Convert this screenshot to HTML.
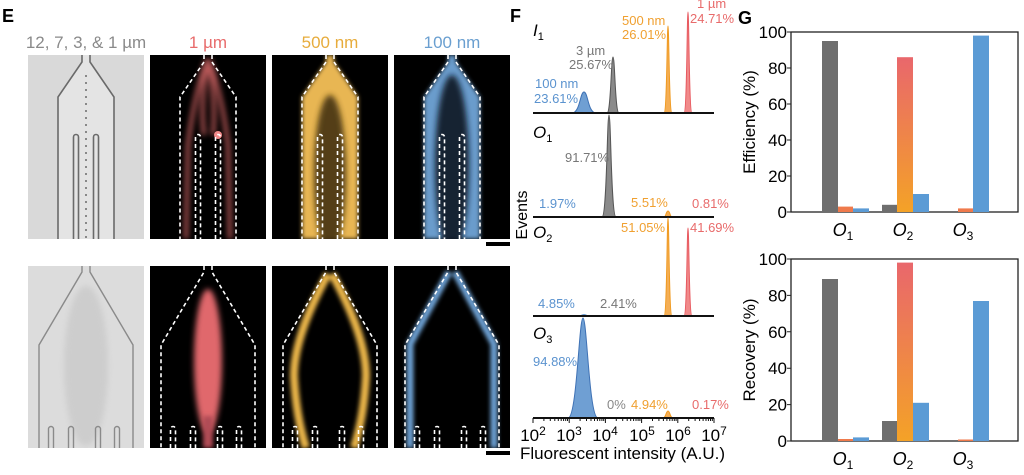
<!DOCTYPE html>
<html><head><meta charset="utf-8"><style>
html,body{margin:0;padding:0;background:#fff;}
svg{display:block;font-family:"Liberation Sans",sans-serif;}
</style></head><body>
<svg width="1024" height="475" viewBox="0 0 1024 475" xmlns="http://www.w3.org/2000/svg">
<defs>
<filter id="b3" x="-50%" y="-50%" width="200%" height="200%"><feGaussianBlur stdDeviation="3"/></filter>
<filter id="b2" x="-50%" y="-50%" width="200%" height="200%"><feGaussianBlur stdDeviation="2"/></filter>
<linearGradient id="ro" x1="0" y1="0" x2="0" y2="1"><stop offset="0" stop-color="#e9676c"/><stop offset="1" stop-color="#f4a227"/></linearGradient>
<g id="topOut">
<path d="M54,0 V7 L30,42 V184 M62,0 V7 L86,42 V184" fill="none"/>
<path d="M45.5,184 V82 A2.5,2.5 0 0 1 50.5,82 V184 M65.5,184 V82 A2.5,2.5 0 0 1 70.5,82 V184" fill="none"/>
</g>
<g id="botOut">
<path d="M54,0 V6 L11,79 V182 M62,0 V6 L105,79 V182" fill="none"/>
<path d="M20.5,182 V163 A2.5,2.5 0 0 1 25.5,163 V182 M40.5,182 V163 A2.5,2.5 0 0 1 45.5,163 V182 M67.5,182 V163 A2.5,2.5 0 0 1 72.5,163 V182 M86.5,182 V163 A2.5,2.5 0 0 1 91.5,163 V182" fill="none"/>
</g>
<clipPath id="ct"><rect width="116" height="184"/></clipPath>
<clipPath id="cb"><rect width="116" height="182"/></clipPath>
</defs>

<!-- Panel E -->
<text x="2" y="22" font-size="18" font-weight="bold">E</text>
<text x="86" y="48" font-size="17" fill="#8a8a8a" text-anchor="middle">12, 7, 3, &amp; 1 µm</text>
<text x="208" y="48" font-size="17" fill="#e86b6b" text-anchor="middle">1 µm</text>
<text x="330" y="48" font-size="17" fill="#e7ac3c" text-anchor="middle">500 nm</text>
<text x="452" y="48" font-size="17" fill="#6a9fd0" text-anchor="middle">100 nm</text>

<!-- top row -->
<g transform="translate(28,55)" clip-path="url(#ct)">
<rect width="116" height="184" fill="#d9d9d9"/>
<path d="M54,0 V7 L30,42 V184 H86 V42 L62,7 V0Z" fill="#e4e4e4"/>
<use href="#topOut" stroke="#6a6a6a" stroke-width="1.6"/>
<line x1="58" y1="20" x2="58" y2="184" stroke="#888" stroke-width="2" stroke-dasharray="2 5"/>
</g>
<g transform="translate(150,55)" clip-path="url(#ct)">
<rect width="116" height="184" fill="#000"/>
<g filter="url(#b3)" stroke="#e8706f" fill="none" stroke-width="4" opacity="0.8">
<path d="M57,4 Q44,40 38,90 L36,184"/><path d="M59,4 Q72,40 78,90 L80,184"/>
<path d="M57,10 Q50,50 54,80"/><path d="M59,10 Q66,50 63,80"/>
</g>
<circle cx="68" cy="80" r="4" fill="#f28a8a"/>
<use href="#topOut" stroke="#fff" stroke-width="1.6" stroke-dasharray="4 3"/>
</g>
<g transform="translate(272,55)" clip-path="url(#ct)">
<rect width="116" height="184" fill="#000"/>
<path d="M54,0 V7 L30,42 V184 H86 V42 L62,7 V0Z" fill="#e8b652" filter="url(#b2)"/>
<ellipse cx="58" cy="120" rx="16" ry="80" fill="#3a2a08" filter="url(#b3)" opacity="0.85"/>
<use href="#topOut" stroke="#fff" stroke-width="1.6" stroke-dasharray="4 3"/>
</g>
<g transform="translate(394,55)" clip-path="url(#ct)">
<rect width="116" height="184" fill="#000"/>
<path d="M54,0 V7 L30,42 V184 H86 V42 L62,7 V0Z" fill="#6a9ccc" filter="url(#b2)"/>
<ellipse cx="58" cy="110" rx="17" ry="90" fill="#0a1420" filter="url(#b3)" opacity="0.9"/>
<use href="#topOut" stroke="#fff" stroke-width="1.6" stroke-dasharray="4 3"/>
</g>
<rect x="486" y="242" width="24" height="4" fill="#000"/>

<!-- bottom row -->
<g transform="translate(28,266)" clip-path="url(#cb)">
<rect width="116" height="182" fill="#dcdcdc"/>
<ellipse cx="58" cy="100" rx="22" ry="80" fill="#cdcdcd" filter="url(#b3)"/>
<use href="#botOut" stroke="#8a8a8a" stroke-width="1.4"/>
</g>
<g transform="translate(150,266)" clip-path="url(#cb)">
<rect width="116" height="182" fill="#000"/>
<ellipse cx="58" cy="95" rx="14" ry="72" fill="#e0686c" filter="url(#b3)"/>
<rect x="53" y="150" width="10" height="32" fill="#b04c55" filter="url(#b2)"/>
<use href="#botOut" stroke="#fff" stroke-width="1.6" stroke-dasharray="4 3"/>
</g>
<g transform="translate(272,266)" clip-path="url(#cb)">
<rect width="116" height="182" fill="#000"/>
<g filter="url(#b2)" stroke="#eab54a" fill="none" stroke-width="8">
<path d="M56,8 Q22,70 22,110 Q24,150 34,182"/><path d="M60,8 Q94,70 94,110 Q92,150 82,182"/>
</g>
<use href="#botOut" stroke="#fff" stroke-width="1.6" stroke-dasharray="4 3"/>
</g>
<g transform="translate(394,266)" clip-path="url(#cb)">
<rect width="116" height="182" fill="#000"/>
<g filter="url(#b2)" stroke="#6ea3d6" fill="none" stroke-width="7">
<path d="M55,6 L16,78 V182"/><path d="M61,6 L100,78 V182"/>
</g>
<use href="#botOut" stroke="#fff" stroke-width="1.6" stroke-dasharray="4 3"/>
</g>
<rect x="486" y="451" width="24" height="4" fill="#000"/>

<!-- Panel F -->
<text x="510" y="22" font-size="18" font-weight="bold">F</text>
<text x="522" y="215" font-size="16" transform="rotate(-90 522 215)" text-anchor="middle" dy="5">Events</text>
<g font-size="17" font-style="italic">
<text x="533" y="36">I<tspan font-size="11" dy="4" font-style="normal">1</tspan></text>
<text x="533" y="138">O<tspan font-size="11" dy="4" font-style="normal">1</tspan></text>
<text x="533" y="238">O<tspan font-size="11" dy="4" font-style="normal">2</tspan></text>
<text x="533" y="339">O<tspan font-size="11" dy="4" font-style="normal">3</tspan></text>
</g>
<path d="M572,113 C580,113 580,92 584,92 C588,92 588,113 596,113Z" fill="#6f9fd3" stroke="#3f72b5" stroke-width="1"/>
<path d="M607,113 C611,113 611,57 613,57 C615,57 615,113 619,113Z" fill="#8a8a8a" stroke="#555" stroke-width="1"/>
<path d="M664,113 C667,113 667,26 668,26 C669,26 669,113 672,113Z" fill="#f4ae55" stroke="#f09a20" stroke-width="1"/>
<path d="M684,113 C687,113 687,12 688,12 C689,12 689,113 692,113Z" fill="#f08a8a" stroke="#e85a60" stroke-width="1"/>
<line x1="533" y1="113" x2="714" y2="113" stroke="#111" stroke-width="2"/>
<path d="M602,217 C607,217 607,115 609,115 C611,115 611,217 616,217Z" fill="#8a8a8a" stroke="#555" stroke-width="1"/>
<path d="M664,217 C666,217 666,211 668,211 C670,211 670,217 672,217Z" fill="#f4ae55" stroke="#f09a20" stroke-width="1"/>
<line x1="533" y1="217" x2="714" y2="217" stroke="#111" stroke-width="2"/>
<path d="M664,316 C667,316 667,218 668,218 C669,218 669,316 672,316Z" fill="#f4ae55" stroke="#f09a20" stroke-width="1"/>
<path d="M684,316 C687,316 687,228 688,228 C689,228 689,316 692,316Z" fill="#f08a8a" stroke="#e85a60" stroke-width="1"/>
<path d="M578,316 C581,316 581,314 584,314 C587,314 587,316 590,316Z" fill="#6f9fd3"/>
<line x1="533" y1="316" x2="714" y2="316" stroke="#111" stroke-width="2"/>
<path d="M568,418 C577,418 579,318 583,318 C587,318 589,418 598,418Z" fill="#6f9fd3" stroke="#3f72b5" stroke-width="1"/>
<path d="M663,418 C666,418 666,411 668,411 C670,411 670,418 673,418Z" fill="#f4ae55" stroke="#f09a20" stroke-width="1"/>
<line x1="533" y1="418" x2="714" y2="418" stroke="#111" stroke-width="2"/>
<g stroke="#111" stroke-width="1">
<path d="M533,418 v5 M569.2,418 v5 M605.4,418 v5 M641.6,418 v5 M677.8,418 v5 M714,418 v5"/>
<path d="M543.9,418v3M550.3,418v3M554.8,418v3M558.3,418v3M561.2,418v3M563.6,418v3M565.7,418v3M567.5,418v3
M580.1,418v3M586.5,418v3M591,418v3M594.5,418v3M597.4,418v3M599.8,418v3M601.9,418v3M603.7,418v3
M616.3,418v3M622.7,418v3M627.2,418v3M630.7,418v3M633.6,418v3M636,418v3M638.1,418v3M639.9,418v3
M652.5,418v3M658.9,418v3M663.4,418v3M666.9,418v3M669.8,418v3M672.2,418v3M674.3,418v3M676.1,418v3
M688.7,418v3M695.1,418v3M699.6,418v3M703.1,418v3M706,418v3M708.4,418v3M710.5,418v3M712.3,418v3"/>
</g>
<g font-size="17" text-anchor="middle">
<text x="533" y="441">10<tspan font-size="12" dy="-6">2</tspan></text>
<text x="569" y="441">10<tspan font-size="12" dy="-6">3</tspan></text>
<text x="605" y="441">10<tspan font-size="12" dy="-6">4</tspan></text>
<text x="642" y="441">10<tspan font-size="12" dy="-6">5</tspan></text>
<text x="678" y="441">10<tspan font-size="12" dy="-6">6</tspan></text>
<text x="714" y="441">10<tspan font-size="12" dy="-6">7</tspan></text>
</g>
<text x="520" y="459" font-size="17">Fluorescent intensity (A.U.)</text>
<g font-size="13">
<text x="622" y="25" fill="#f0a030">500 nm</text><text x="622" y="39" fill="#f0a030">26.01%</text>
<text x="697" y="8" fill="#e86b6b">1 µm</text><text x="690" y="23" fill="#e86b6b">24.71%</text>
<text x="576" y="55" fill="#777">3 µm</text><text x="569" y="69" fill="#777">25.67%</text>
<text x="535" y="88" fill="#5b93cf">100 nm</text><text x="534" y="103" fill="#5b93cf">23.61%</text>
<text x="565" y="162" fill="#777">91.71%</text>
<text x="539" y="208" fill="#5b93cf">1.97%</text>
<text x="631" y="207" fill="#f0a030">5.51%</text>
<text x="692" y="208" fill="#e86b6b">0.81%</text>
<text x="621" y="232" fill="#f0a030">51.05%</text>
<text x="690" y="232" fill="#e86b6b">41.69%</text>
<text x="538" y="308" fill="#5b93cf">4.85%</text>
<text x="600" y="308" fill="#777">2.41%</text>
<text x="533" y="366" fill="#5b93cf">94.88%</text>
<text x="607" y="409" fill="#888">0%</text>
<text x="631" y="409" fill="#f0a030">4.94%</text>
<text x="692" y="409" fill="#e86b6b">0.17%</text>
</g>

<!-- Panel G -->
<text x="738" y="24" font-size="18" font-weight="bold">G</text>
<rect x="791" y="32" width="227" height="180" fill="none" stroke="#222" stroke-width="1.3"/>
<g font-size="17" text-anchor="end">
<text x="787" y="38">100</text><text x="787" y="74">80</text><text x="787" y="110">60</text><text x="787" y="146">40</text><text x="787" y="182">20</text><text x="787" y="218">0</text>
</g>
<g stroke="#222"><path d="M791,32h-4M791,68h-4M791,104h-4M791,140h-4M791,176h-4M791,212h-4"/></g>
<text x="755" y="122" font-size="17" text-anchor="middle" transform="rotate(-90 755 122)">Efficiency (%)</text>
<rect x="822" y="41" width="16" height="171" fill="#6e6e6e"/>
<rect x="838" y="206.6" width="15" height="5.4" fill="#ef7a4c"/>
<rect x="853" y="208.4" width="16" height="3.6" fill="#5b9bd5"/>
<rect x="882" y="204.8" width="15" height="7.2" fill="#6e6e6e"/>
<rect x="897" y="57.2" width="16" height="154.8" fill="url(#ro)"/>
<rect x="913" y="194" width="16" height="18" fill="#5b9bd5"/>
<rect x="958" y="208.4" width="15" height="3.6" fill="#ef7a4c"/>
<rect x="973" y="35.6" width="16" height="176.4" fill="#5b9bd5"/>
<g font-size="18" font-style="italic" text-anchor="middle">
<text x="843" y="236">O<tspan font-size="12" dy="4" font-style="normal">1</tspan></text>
<text x="903" y="236">O<tspan font-size="12" dy="4" font-style="normal">2</tspan></text>
<text x="963" y="236">O<tspan font-size="12" dy="4" font-style="normal">3</tspan></text>
</g>
<rect x="791" y="259" width="227" height="182" fill="none" stroke="#222" stroke-width="1.3"/>
<g font-size="17" text-anchor="end">
<text x="787" y="265">100</text><text x="787" y="301.4">80</text><text x="787" y="337.8">60</text><text x="787" y="374.2">40</text><text x="787" y="410.6">20</text><text x="787" y="447">0</text>
</g>
<g stroke="#222"><path d="M791,259h-4M791,295.4h-4M791,331.8h-4M791,368.2h-4M791,404.6h-4M791,441h-4"/></g>
<text x="755" y="350" font-size="17" text-anchor="middle" transform="rotate(-90 755 350)">Recovery (%)</text>
<rect x="822" y="279" width="16" height="162" fill="#6e6e6e"/>
<rect x="838" y="439" width="15" height="2" fill="#ef7a4c"/>
<rect x="853" y="437.4" width="16" height="3.6" fill="#5b9bd5"/>
<rect x="882" y="421" width="15" height="20" fill="#6e6e6e"/>
<rect x="897" y="262.6" width="16" height="178.4" fill="url(#ro)"/>
<rect x="913" y="402.8" width="16" height="38.2" fill="#5b9bd5"/>
<rect x="958" y="439.5" width="15" height="1.5" fill="#ef7a4c"/>
<rect x="973" y="301" width="16" height="140" fill="#5b9bd5"/>
<g font-size="18" font-style="italic" text-anchor="middle">
<text x="843" y="465">O<tspan font-size="12" dy="4" font-style="normal">1</tspan></text>
<text x="903" y="465">O<tspan font-size="12" dy="4" font-style="normal">2</tspan></text>
<text x="963" y="465">O<tspan font-size="12" dy="4" font-style="normal">3</tspan></text>
</g>
</svg>
</body></html>
